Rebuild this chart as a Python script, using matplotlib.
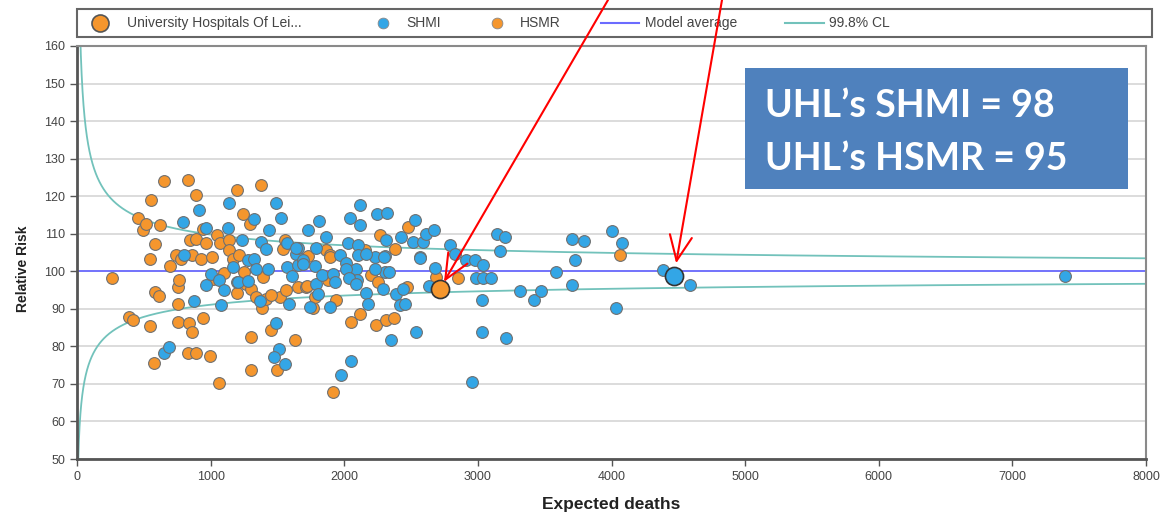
import numpy as np
import matplotlib.pyplot as plt
from matplotlib.patches import Rectangle

# HSMR trusts: (expected deaths, relative risk)
hsmr_expected = [261, 454, 497, 517, 554, 654, 624, 587, 547, 697, 587, 617, 392, 417, 547, 579,
                 754, 754, 754, 760, 741, 779, 834, 891, 846, 891, 966, 861, 841, 861, 829, 891,
                 941, 996, 1066, 929, 945, 1011, 1048, 1073, 1141, 1196, 1241, 1296, 1378, 1141,
                 1166, 1216, 1253, 1196, 1266, 1303, 1341, 1391, 1386, 1303, 1303, 1453, 1496,
                 1628, 1516, 1566, 1541, 1553, 1653, 1711, 1728, 1765, 1778, 1860, 1890, 1878,
                 1940, 2052, 2115, 2152, 2202, 2252, 2265, 2235, 2315, 2370, 2377, 2470, 2477,
                 2684, 2851, 1915, 4062, 1416, 1453, 1723, 1890, 1020, 1100]
hsmr_rr = [98.2, 114.3, 111.1, 112.7, 118.9, 124.0, 112.2, 107.2, 103.4, 101.3, 94.5, 93.4, 87.8,
           87.1, 85.4, 75.5, 91.4, 86.5, 95.8, 97.6, 104.3, 103.4, 124.4, 120.2, 108.2, 108.6,
           107.4, 104.3, 86.2, 83.7, 78.3, 78.3, 87.6, 77.4, 70.3, 103.4, 111.2, 103.7, 109.6,
           107.4, 108.2, 121.7, 115.3, 112.7, 122.9, 105.6, 103.4, 104.3, 99.8, 94.1, 96.7, 95.4,
           93.2, 98.5, 90.1, 82.5, 73.7, 84.4, 73.7, 81.6, 93.2, 94.9, 106.0, 108.4, 95.8, 95.8,
           104.0, 90.1, 93.2, 105.6, 104.3, 97.6, 92.3, 86.5, 88.7, 105.6, 98.9, 97.2, 109.6,
           85.6, 87.0, 87.6, 106.0, 95.8, 111.7, 98.6, 98.3, 67.9, 104.4, 92.7, 93.6, 96.0,
           103.8, 98.0, 99.5]

# SHMI trusts
shmi_expected = [791, 911, 803, 966, 878, 654, 692, 966, 1004, 1061, 1103, 1078, 1128, 1141, 1166,
                 1196, 1236, 1278, 1328, 1328, 1341, 1366, 1378, 1416, 1428, 1436, 1491, 1523,
                 1486, 1511, 1478, 1553, 1571, 1586, 1571, 1611, 1641, 1653, 1653, 1691, 1728,
                 1746, 1778, 1790, 1790, 1810, 1803, 1835, 1865, 1890, 1915, 1928, 1965, 1978,
                 2015, 2027, 2040, 2052, 2085, 2095, 2102, 2115, 2120, 2102, 2160, 2177, 2227,
                 2245, 2290, 2302, 2302, 2320, 2310, 2335, 2352, 2390, 2415, 2427, 2452, 2440,
                 2515, 2527, 2534, 2569, 2589, 2609, 2634, 2668, 2676, 2789, 2827, 2909, 2977,
                 3038, 2988, 3038, 3101, 3034, 3313, 3418, 3476, 3143, 3201, 3163, 3583, 3708,
                 3793, 3725, 3708, 4007, 4075, 4037, 4382, 4587, 3034, 3208, 2959, 7396, 1640,
                 2165, 1690, 2010, 2227, 2035, 1203, 1278, 2090, 2564, 2294]
shmi_rr = [113.1, 116.2, 104.3, 111.5, 92.0, 78.3, 79.9, 96.4, 99.4, 97.6, 94.9, 90.9, 111.5,
           118.3, 101.2, 97.2, 108.4, 102.9, 114.0, 103.4, 100.7, 92.0, 107.8, 106.0, 100.7,
           110.9, 118.3, 114.1, 86.3, 79.2, 77.3, 75.2, 107.6, 91.4, 101.2, 98.7, 104.5, 106.1,
           101.6, 102.9, 110.9, 90.5, 101.3, 106.3, 96.7, 113.5, 93.9, 98.9, 109.2, 90.5, 99.4,
           97.2, 104.3, 72.3, 102.3, 107.5, 114.1, 76.1, 100.7, 97.6, 107.1, 112.4, 117.7, 104.3,
           94.3, 91.3, 103.8, 115.2, 95.2, 104.0, 99.8, 115.5, 108.4, 99.8, 81.8, 93.9, 90.9,
           109.0, 91.4, 95.4, 107.8, 113.6, 83.7, 103.8, 107.8, 110.0, 96.2, 110.9, 101.0, 106.9,
           104.5, 102.9, 102.9, 101.6, 98.1, 98.1, 98.3, 92.3, 94.8, 92.3, 94.8, 110.0, 109.1,
           105.4, 99.8, 108.7, 108.1, 102.9, 96.3, 110.7, 107.4, 90.1, 100.3, 96.3, 83.9, 82.1,
           70.6, 98.7, 106.3, 104.7, 101.9, 100.7, 100.7, 98.1, 97.2, 97.4, 96.7, 103.6, 103.8]

# University Hospitals of Leicester
uhl_hsmr = (2714, 95.2)
uhl_shmi = (4467, 98.7)

model_average = 100
z = 3.09  # 99.8% control limits

blue = '#33a6e6'
orange = '#f5962d'

fig = plt.figure(figsize=(11.65, 5.13), dpi=100)
ax = fig.add_axes([77 / 1165, 1 - 459 / 513, 1069 / 1165, 413 / 513])

for y in range(50, 161, 10):
    ax.axhline(y, color='#d9d9d9', lw=1.3, zorder=0)

e = np.geomspace(1, 8000, 3000)
ax.plot(e, 100 * (1 + z / np.sqrt(e)), color='#72c2bb', lw=1.3, zorder=1)
ax.plot(e, 100 / (1 + z / np.sqrt(e)), color='#72c2bb', lw=1.3, zorder=1)
ax.axhline(model_average, color='#6b6bff', lw=1.3, zorder=1)

ax.scatter(hsmr_expected, hsmr_rr, s=72, color=orange, edgecolor='#707070', linewidths=0.8, zorder=2)
ax.scatter(shmi_expected, shmi_rr, s=72, color=blue, edgecolor='#707070', linewidths=0.8, zorder=3)
ax.scatter(*uhl_hsmr, s=170, color=orange, edgecolor='#333333', linewidths=1.2, zorder=4)
ax.scatter(*uhl_shmi, s=170, color=blue, edgecolor='#333333', linewidths=1.2, zorder=4)

ax.set_xlim(0, 8000)
ax.set_ylim(50, 160)
ax.set_xticks(range(0, 8001, 1000))
ax.set_yticks(range(50, 161, 10))
ax.tick_params(labelsize=9, labelcolor='#444444', color='#555555', length=5, width=1)
for t in ax.get_xticklabels() + ax.get_yticklabels():
    t.set_family('Liberation Sans')
for s in ['left', 'bottom']:
    ax.spines[s].set_color('#555555')
    ax.spines[s].set_linewidth(2)
for s in ['top', 'right']:
    ax.spines[s].set_color('#8a8a8a')
    ax.spines[s].set_linewidth(1.5)
ax.set_xlabel('Expected deaths', fontsize=12.5, fontweight='bold', color='#222222',
              family=['Liberation Sans Narrow', 'Liberation Sans'], labelpad=10)
ax.set_ylabel('Relative Risk', fontsize=10, fontweight='bold', color='#222222',
              family=['Liberation Sans Narrow', 'Liberation Sans'])
ax.yaxis.set_label_coords(-0.044, 0.46)

# overlay in pixel coordinates: legend, text box, arrows
ov = fig.add_axes([0, 0, 1, 1])
ov.set_xlim(0, 1165)
ov.set_ylim(513, 0)
ov.axis('off')
ov.patch.set_alpha(0)

ov.add_patch(Rectangle((77, 9), 1075, 28, facecolor='white', edgecolor='#666666', lw=1.5))
ly = 23
lfont = dict(fontsize=10, color='#444444', va='center', family='Liberation Sans')
ov.scatter([100], [ly], s=150, color=orange, edgecolor='#555555', linewidths=1.2, zorder=5)
ov.text(127, ly, 'University Hospitals Of Lei...', **lfont)
ov.scatter([383], [ly], s=60, color=blue, edgecolor='#888888', linewidths=0.6, zorder=5)
ov.text(406, ly, 'SHMI', **lfont)
ov.scatter([497], [ly], s=60, color=orange, edgecolor='#888888', linewidths=0.6, zorder=5)
ov.text(520, ly, 'HSMR', **lfont)
ov.plot([601, 639], [ly, ly], color='#6b6bff', lw=1.5)
ov.text(645, ly, 'Model average', **lfont)
ov.plot([785, 824], [ly, ly], color='#72c2bb', lw=1.5)
ov.text(829, ly, '99.8% CL', **lfont)

ov.add_patch(Rectangle((745, 68), 383, 121, facecolor='#4f81bd', edgecolor='none'))
bfont = dict(fontsize=27, fontweight='bold', color='white', family='Lato', va='baseline')
ov.text(765, 117, 'UHL\u2019s SHMI = 98', **bfont)
ov.text(765, 170, 'UHL\u2019s HSMR = 95', **bfont)

arrow = dict(arrowstyle='->,head_length=0.9,head_width=0.4', color='red', lw=1.5,
             mutation_scale=20, shrinkA=0)
ov.annotate('', xy=uhl_hsmr, xycoords=ax.transData, xytext=(608, 0), textcoords='data',
            arrowprops=dict(shrinkB=6.2, **arrow), annotation_clip=False)
ov.annotate('', xy=uhl_shmi, xycoords=ax.transData, xytext=(722, 0), textcoords='data',
            arrowprops=dict(shrinkB=9.4, **arrow), annotation_clip=False)

fig.savefig('out.png', dpi=100)
